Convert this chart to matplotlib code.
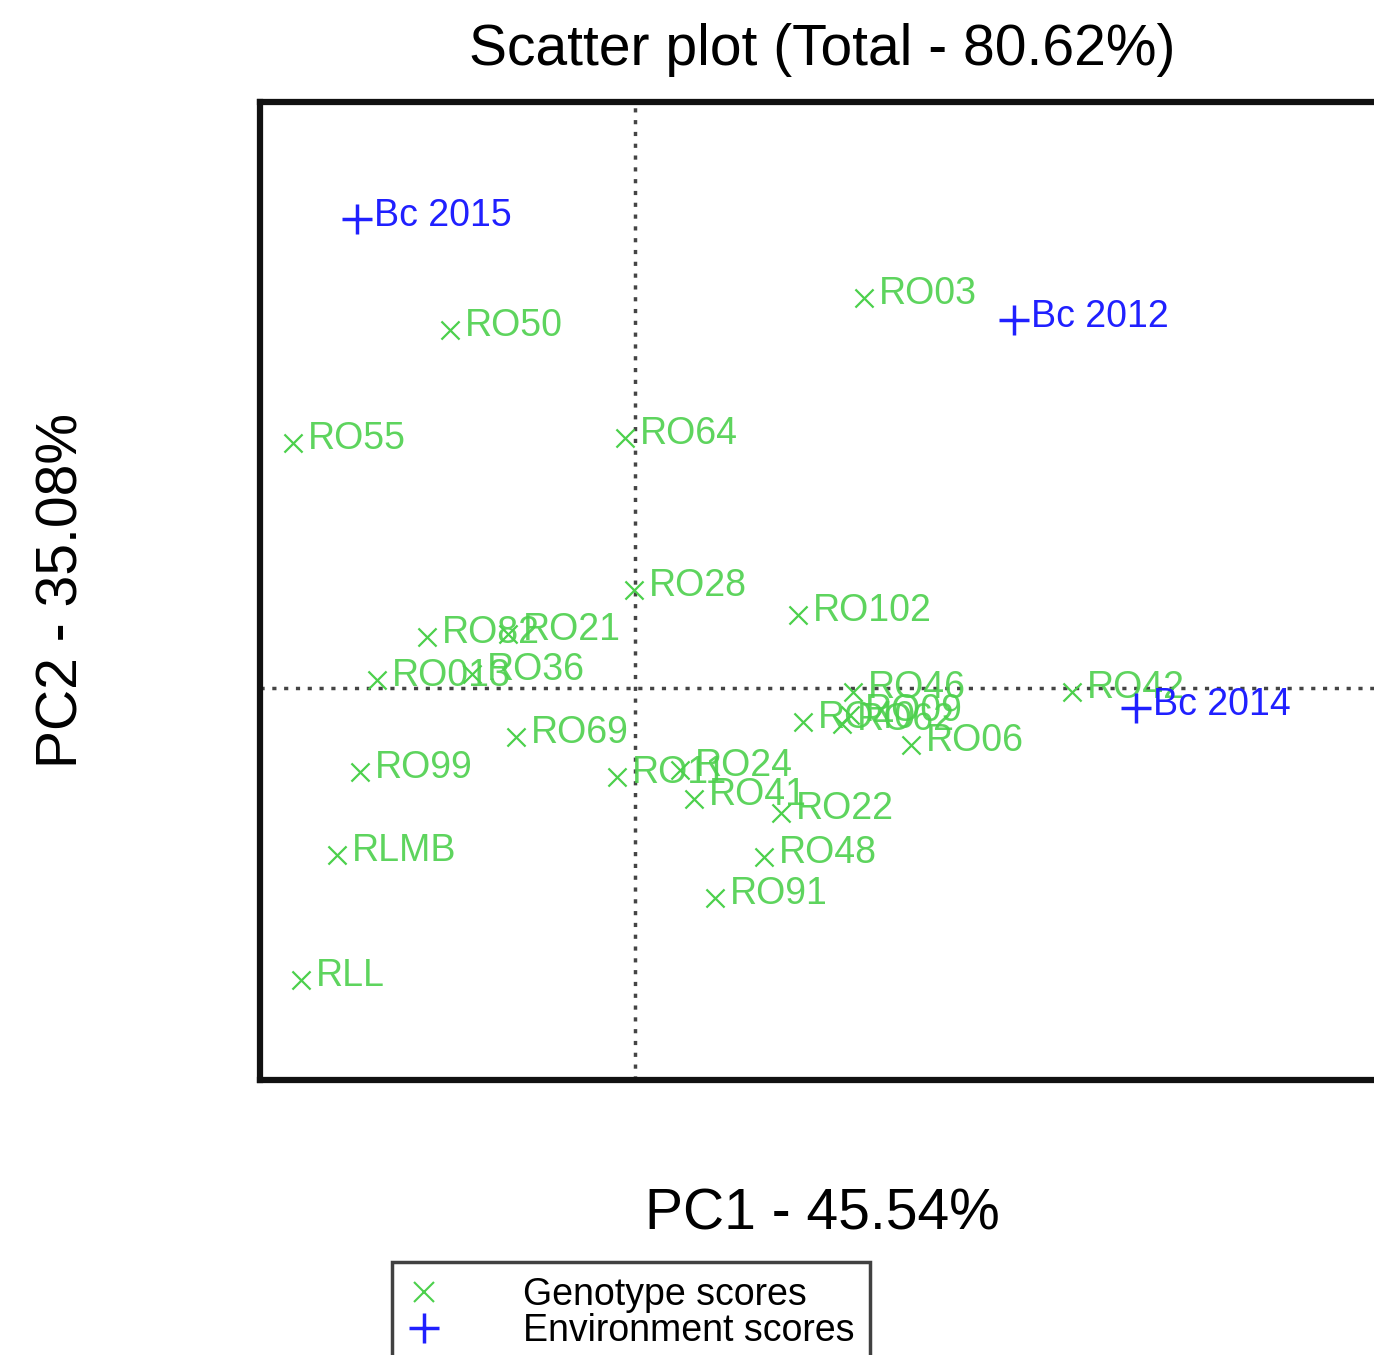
import matplotlib
matplotlib.use('Agg')
import matplotlib.pyplot as plt
from matplotlib.lines import Line2D

plt.rcParams['font.family'] = ['Liberation Sans', 'DejaVu Sans']

# genotype scores (PC1, PC2)
geno_names = ['RO03', 'RO50', 'RO55', 'RO64', 'RO28', 'RO102', 'RO82', 'RO21',
              'RO013', 'RO36', 'RO69', 'RO99', 'RLMB', 'RLL', 'RO11', 'RO24',
              'RO41', 'RO22', 'RO48', 'RO91', 'RO46', 'RO40', 'RO09', 'RO62',
              'RO06', 'RO42']
geno_pc1 = [2.29, -1.85, -3.42, -0.10, -0.01, 1.63, -2.08, -1.27,
            -2.58, -1.63, -1.19, -2.75, -2.98, -3.34, -0.18, 0.45,
            0.59, 1.46, 1.29, 0.80, 2.18, 1.68, 2.15, 2.07,
            2.76, 4.37]
geno_pc2 = [3.90, 3.58, 2.45, 2.50, 0.98, 0.73, 0.51, 0.54,
            0.08, 0.14, -0.49, -0.84, -1.67, -2.92, -0.89, -0.82,
            -1.11, -1.25, -1.69, -2.10, -0.04, -0.34, -0.27, -0.36,
            -0.57, -0.04]

# environment scores
env_names = ['Bc 2015', 'Bc 2012', 'Bc 2014']
env_pc1 = [-2.78, 3.79, 5.01]
env_pc2 = [4.69, 3.68, -0.20]

green = '#4cd04c'
blue = '#2020ff'

fig = plt.figure(figsize=(13.74, 13.55), dpi=100)
ax = fig.add_axes([0.1892, 0.2030, 0.8304, 0.7218])

ax.axvline(0, color='#444444', linestyle=(0, (1.2, 2.2)), linewidth=2.5, zorder=1)
ax.axhline(0, color='#444444', linestyle=(0, (1.2, 2.2)), linewidth=2.5, zorder=1)

ax.scatter(geno_pc1, geno_pc2, marker='x', s=170, color=green, linewidths=1.6, zorder=2)
for n, x, y in zip(geno_names, geno_pc1, geno_pc2):
    ax.annotate(n, (x, y), xytext=(11, 3), textcoords='offset points',
                color=green, fontsize=27, va='center', ha='left', alpha=0.9)

ax.scatter(env_pc1, env_pc2, marker='+', s=450, color=blue, linewidths=2.5, zorder=3)
for n, x, y in zip(env_names, env_pc1, env_pc2):
    ax.annotate(n, (x, y), xytext=(12, 2), textcoords='offset points',
                color=blue, fontsize=27, va='center', ha='left')

ax.set_xlim(-3.75, 7.66)
ax.set_ylim(-3.92, 5.86)
ax.set_xticks([])
ax.set_yticks([])
for s in ax.spines.values():
    s.set_linewidth(4.5)
    s.set_color('#111111')

fig.text(822 / 1374, 1 - 50 / 1355, 'Scatter plot (Total - 80.62%)',
         ha='center', va='center', fontsize=41)
fig.text(822 / 1374, 1 - 1215 / 1355, 'PC1 - 45.54%',
         ha='center', va='center', fontsize=41)
fig.text(62 / 1374, 1 - 590 / 1355, 'PC2 - 35.08%', rotation=90,
         ha='center', va='center', fontsize=41)

handles = [Line2D([], [], marker='x', linestyle='none', color=green, markersize=14, mew=1.5),
           Line2D([], [], marker='+', linestyle='none', color=blue, markersize=22, mew=2.5)]
leg = fig.legend(handles, ['Genotype scores', 'Environment scores'],
                 loc='upper left', bbox_to_anchor=(392 / 1374, 1 - 1262 / 1355),
                 fontsize=27, frameon=True, fancybox=False, handlelength=0.9,
                 handletextpad=2.2, borderpad=0.4, labelspacing=0.0, borderaxespad=0)
leg.get_frame().set_edgecolor('#111111')
leg.get_frame().set_linewidth(2.5)

fig.savefig('out.png', dpi=100)
